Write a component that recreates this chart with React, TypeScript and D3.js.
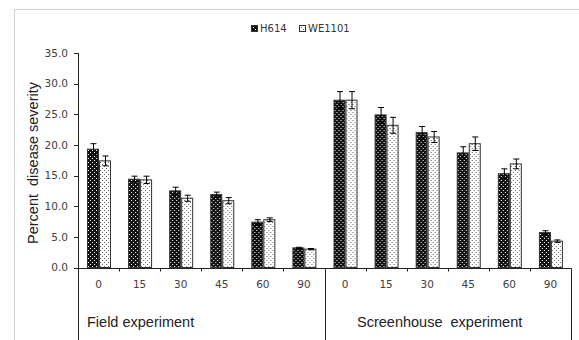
import React, { useRef, useEffect } from "react";
import * as d3 from "d3";

// days after inoculation, repeated for both experiments
const days = ["0", "15", "30", "45", "60", "90"];
const experiments = ["Field experiment", "Screenhouse  experiment"];
const varieties = ["H614", "WE1101"];

const h614 = [19.3, 14.4, 12.5, 11.9, 7.4, 3.2, 27.3, 24.9, 22.0, 18.7, 15.3, 5.7];
const h614Err = [0.9, 0.5, 0.6, 0.4, 0.4, 0.1, 1.4, 1.2, 1.0, 1.0, 0.8, 0.3];
const we1101 = [17.4, 14.3, 11.3, 10.9, 7.8, 3.0, 27.3, 23.2, 21.3, 20.2, 16.9, 4.3];
const we1101Err = [0.8, 0.6, 0.5, 0.5, 0.3, 0.1, 1.4, 1.3, 0.9, 1.1, 0.8, 0.2];

const yTicks = [0, 5, 10, 15, 20, 25, 30, 35];

const App = () => {
  const ref = useRef<SVGSVGElement>(null);
  const width = 579;
  const height = 340;
  const left = 78;
  const right = 571;
  const top = 53;
  const bottom = 267.5;

  useEffect(() => {
    const svg = d3.select(ref.current);
    svg.selectAll("*").remove();

    // patterns for the two varieties
    const defs = svg.append("defs");
    const dark = defs
      .append("pattern")
      .attr("id", "pat-h614")
      .attr("width", 4)
      .attr("height", 4)
      .attr("patternUnits", "userSpaceOnUse");
    dark.append("rect").attr("width", 4).attr("height", 4).attr("fill", "#111");
    dark.append("rect").attr("x", 0).attr("y", 0).attr("width", 1).attr("height", 1).attr("fill", "#fff");
    dark.append("rect").attr("x", 2).attr("y", 2).attr("width", 1).attr("height", 1).attr("fill", "#fff");

    const light = defs
      .append("pattern")
      .attr("id", "pat-we1101")
      .attr("width", 4)
      .attr("height", 4)
      .attr("patternUnits", "userSpaceOnUse");
    light.append("rect").attr("width", 4).attr("height", 4).attr("fill", "#fff");
    light.append("rect").attr("x", 0).attr("y", 0).attr("width", 1).attr("height", 1).attr("fill", "#666");
    light.append("rect").attr("x", 2).attr("y", 2).attr("width", 1).attr("height", 1).attr("fill", "#666");

    const fills = ["url(#pat-h614)", "url(#pat-we1101)"];

    // chart area frame
    svg
      .append("path")
      .attr("d", `M14.5,${height} V9.5 H${width}`)
      .attr("fill", "none")
      .attr("stroke", "#d0d0d0");

    const keys = experiments.flatMap((e, gi) => days.map((d) => `${gi}-${d}`));
    const x = d3.scaleBand().domain(keys).range([left, right]).padding(0);
    const step = x.step();
    const inner = d3
      .scaleBand()
      .domain(varieties)
      .range([(step - 24) / 2, (step + 24) / 2]);
    const y = d3.scaleLinear().domain([0, 35]).range([bottom, top]);

    const rows = keys.map((k, i) => ({
      key: k,
      values: [
        { v: h614[i], e: h614Err[i], s: 0 },
        { v: we1101[i], e: we1101Err[i], s: 1 },
      ],
    }));

    const g = svg.append("g");
    const cat = g
      .selectAll("g.cat")
      .data(rows)
      .enter()
      .append("g")
      .attr("transform", (d) => `translate(${x(d.key)},0)`);

    cat
      .selectAll("rect")
      .data((d) => d.values)
      .enter()
      .append("rect")
      .attr("x", (d) => Math.round(inner(varieties[d.s])!) + 0.5)
      .attr("y", (d) => y(d.v))
      .attr("width", inner.bandwidth() - 1)
      .attr("height", (d) => bottom - y(d.v))
      .attr("fill", (d) => fills[d.s])
      .attr("stroke", "#333")
      .attr("stroke-width", 1);

    // error bars
    const eb = cat
      .selectAll("g.err")
      .data((d) => d.values)
      .enter()
      .append("g")
      .attr("stroke", "#000")
      .attr("stroke-width", 1);
    const cx = (d: any) => Math.round(inner(varieties[d.s])! + inner.bandwidth() / 2) + 0.5;
    eb.append("line")
      .attr("x1", cx)
      .attr("x2", cx)
      .attr("y1", (d) => y(d.v + d.e))
      .attr("y2", (d) => y(d.v - d.e));
    eb.append("line")
      .attr("x1", (d) => cx(d) - 3)
      .attr("x2", (d) => cx(d) + 3)
      .attr("y1", (d) => y(d.v + d.e))
      .attr("y2", (d) => y(d.v + d.e));
    eb.append("line")
      .attr("x1", (d) => cx(d) - 3)
      .attr("x2", (d) => cx(d) + 3)
      .attr("y1", (d) => y(d.v - d.e))
      .attr("y2", (d) => y(d.v - d.e));

    // y axis
    const axisColor = "#222";
    svg
      .append("line")
      .attr("x1", left + 0.5)
      .attr("x2", left + 0.5)
      .attr("y1", top)
      .attr("y2", height)
      .attr("stroke", axisColor);
    const yt = svg.append("g");
    yt.selectAll("line")
      .data(yTicks)
      .enter()
      .append("line")
      .attr("x1", left - 4)
      .attr("x2", left + 0.5)
      .attr("y1", (d) => Math.round(y(d)) + 0.5)
      .attr("y2", (d) => Math.round(y(d)) + 0.5)
      .attr("stroke", axisColor);
    yt.selectAll("text")
      .data(yTicks)
      .enter()
      .append("text")
      .attr("x", left - 10)
      .attr("y", (d) => y(d))
      .attr("dy", "0.35em")
      .attr("text-anchor", "end")
      .attr("font-family", "DejaVu Sans")
      .attr("font-size", "10.5px")
      .attr("fill", "#404040")
      .text((d) => d.toFixed(1));

    svg
      .append("text")
      .attr("transform", `translate(38,163) rotate(-90)`)
      .attr("text-anchor", "middle")
      .attr("font-family", "Liberation Sans")
      .attr("font-size", "14.5px")
      .attr("fill", "#222")
      .attr("xml:space", "preserve")
      .style("white-space", "pre")
      .text("Percent  disease severity");

    // x axis
    svg
      .append("line")
      .attr("x1", left)
      .attr("x2", right + 0.5)
      .attr("y1", Math.round(bottom) + 0.5)
      .attr("y2", Math.round(bottom) + 0.5)
      .attr("stroke", axisColor);
    const bounds = d3.range(keys.length + 1).map((i) => left + i * step);
    svg
      .append("g")
      .selectAll("line")
      .data(bounds)
      .enter()
      .append("line")
      .attr("x1", (d) => Math.round(d) + 0.5)
      .attr("x2", (d) => Math.round(d) + 0.5)
      .attr("y1", Math.round(bottom) + 0.5)
      .attr("y2", (d, i) => (i % days.length === 0 ? height : bottom + 4))
      .attr("stroke", axisColor);

    svg
      .append("g")
      .selectAll("text")
      .data(keys)
      .enter()
      .append("text")
      .attr("x", (d) => x(d)! + step / 2)
      .attr("y", 288)
      .attr("text-anchor", "middle")
      .attr("font-family", "DejaVu Sans")
      .attr("font-size", "10.5px")
      .attr("fill", "#404040")
      .text((d) => d.split("-")[1]);

    const groupX = [87, 357];
    svg
      .append("g")
      .selectAll("text")
      .data(experiments)
      .enter()
      .append("text")
      .attr("x", (d, i) => groupX[i])
      .attr("y", 327)
      .attr("font-family", "Liberation Sans")
      .attr("font-size", "14.5px")
      .attr("fill", "#222")
      .attr("xml:space", "preserve")
      .style("white-space", "pre")
      .text((d) => d);

    // legend
    const legX = [251, 299];
    const leg = svg
      .append("g")
      .selectAll("g")
      .data(varieties)
      .enter()
      .append("g")
      .attr("transform", (d, i) => `translate(${legX[i]},25)`);
    leg
      .append("rect")
      .attr("x", 0.5)
      .attr("y", 0.5)
      .attr("width", 6)
      .attr("height", 6)
      .attr("fill", (d, i) => fills[i])
      .attr("stroke", "#333");
    leg
      .append("text")
      .attr("x", 9)
      .attr("y", 7)
      .attr("font-family", "DejaVu Sans")
      .attr("font-size", "10px")
      .attr("fill", "#333")
      .text((d) => d);
  }, []);

  return (
    <svg
      ref={ref}
      width={width}
      height={height}
      style={{ position: "absolute", left: 0, top: 0, background: "#fff" }}
    ></svg>
  );
};

export default App;
